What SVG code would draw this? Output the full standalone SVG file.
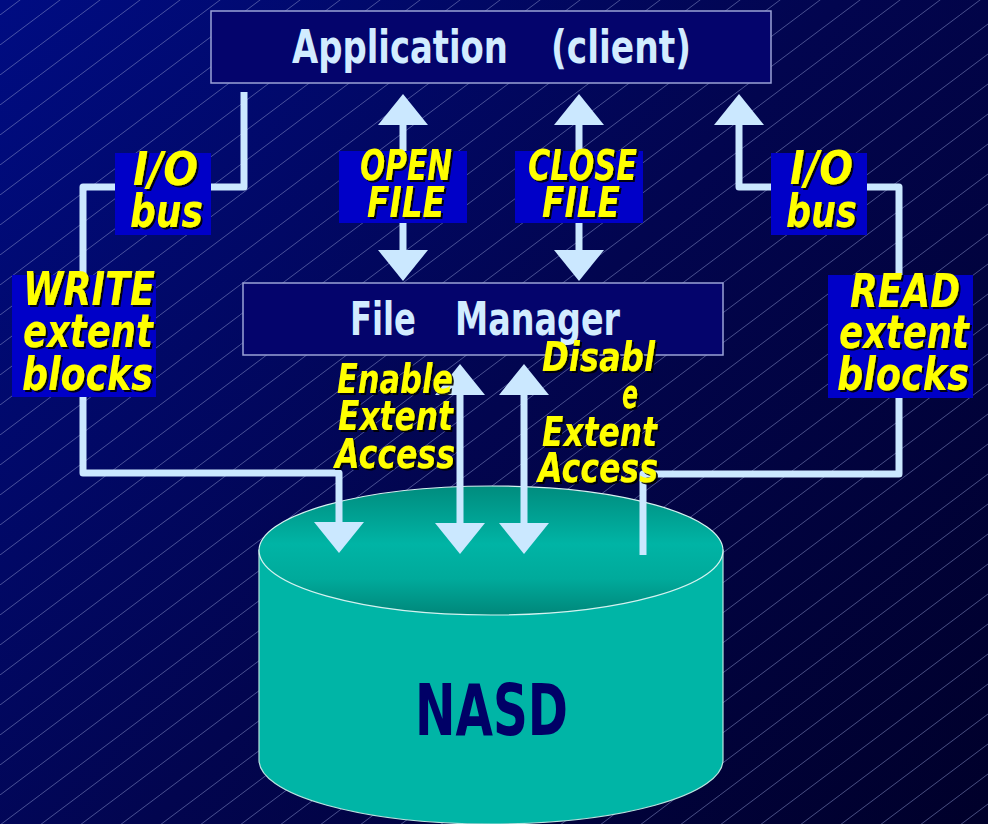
<svg xmlns="http://www.w3.org/2000/svg" width="988" height="824" viewBox="0 0 988 824">
  <defs>
    <linearGradient id="bg" gradientUnits="userSpaceOnUse" x1="0" y1="0" x2="988" y2="824">
      <stop offset="0" stop-color="#000c82"/>
      <stop offset="0.5" stop-color="#02054f"/>
      <stop offset="1" stop-color="#00002a"/>
    </linearGradient>
    <pattern id="hatch" patternUnits="userSpaceOnUse" x="0" y="15" width="40" height="30">
      <line x1="-8" y1="36" x2="48" y2="-6" stroke="#8c94cc" stroke-width="0.8" stroke-opacity="0.65"/>
    </pattern>
    <linearGradient id="capTop" x1="0" y1="0" x2="0" y2="1">
      <stop offset="0" stop-color="#008c7e"/>
      <stop offset="0.45" stop-color="#00b4a5"/>
      <stop offset="0.72" stop-color="#00aa9b"/>
      <stop offset="1" stop-color="#00877a"/>
    </linearGradient>
    <marker id="head" viewBox="0 0 31 50" refX="1" refY="25" markerWidth="31" markerHeight="50" markerUnits="userSpaceOnUse" orient="auto-start-reverse">
      <path d="M0,0 L31,25 L0,50 Z" fill="#cbe8ff"/>
    </marker>
    <filter id="shadow" x="-10%" y="-10%" width="130%" height="140%">
      <feDropShadow dx="2" dy="2" stdDeviation="0.4" flood-color="#000000" flood-opacity="0.9"/>
    </filter>
  </defs>
  <style>
    .box { fill: #04046c; stroke: #9aa2d6; stroke-width: 1.5; }
    .title { font-family: "Liberation Sans Narrow", "DejaVu Sans Condensed", "Liberation Sans", sans-serif; font-weight: bold; fill: #d2ecff; font-size: 46px; }
    .wire { fill: none; stroke: #cbe8ff; stroke-width: 7; stroke-linejoin: round; }
    .tag { fill: #0000c8; }
    .lbl { font-family: "Liberation Sans Narrow", "DejaVu Sans Condensed", "Liberation Sans", sans-serif; font-weight: bold; font-style: italic; fill: #ffff00; filter: url(#shadow); }
    .big { font-size: 46px; }
    .mid { font-size: 42px; }
    .free { font-size: 40px; }
  </style>

  <!-- background -->
  <rect x="0" y="0" width="988" height="824" fill="url(#bg)"/>
  <rect x="0" y="0" width="988" height="824" fill="url(#hatch)"/>

  <!-- disk -->
  <g id="nasd">
    <path d="M259,550 V760 A232,64 0 0 0 723,760 V550 Z" fill="#00b5a6" stroke="#b8e4e0" stroke-width="1.2"/>
    <ellipse cx="491" cy="550.5" rx="232" ry="64.5" fill="url(#capTop)" stroke="#d4f2f0" stroke-width="1.2"/>
    <text x="415" y="735" textLength="153" lengthAdjust="spacingAndGlyphs" font-family="Liberation Sans Narrow, DejaVu Sans Condensed, Liberation Sans, sans-serif" font-weight="bold" font-size="72" fill="#000066">NASD</text>
  </g>

  <!-- client box -->
  <g id="application">
    <rect class="box" x="211" y="11" width="560" height="72"/>
    <text class="title" x="292" y="63" textLength="216" lengthAdjust="spacingAndGlyphs">Application</text>
    <text class="title" x="551" y="63" textLength="140" lengthAdjust="spacingAndGlyphs">(client)</text>
  </g>

  <!-- file manager box -->
  <g id="file-manager">
    <rect class="box" x="243" y="283" width="480" height="72"/>
    <text class="title" x="350" y="335" textLength="66" lengthAdjust="spacingAndGlyphs">File</text>
    <text class="title" x="455" y="335" textLength="165" lengthAdjust="spacingAndGlyphs">Manager</text>
  </g>

  <!-- connectors -->
  <g id="connectors">
    <path class="wire" d="M244,92 V187 H83 V473 H339 V523" marker-end="url(#head)"/>
    <path class="wire" d="M643,555 V474 H899 V187 H739 V124" marker-end="url(#head)"/>
    <line class="wire" x1="403" y1="124" x2="403" y2="251" marker-start="url(#head)" marker-end="url(#head)"/>
    <line class="wire" x1="579" y1="124" x2="579" y2="251" marker-start="url(#head)" marker-end="url(#head)"/>
    <line class="wire" x1="460" y1="394" x2="460" y2="524" marker-start="url(#head)" marker-end="url(#head)"/>
    <line class="wire" x1="524" y1="394" x2="524" y2="524" marker-start="url(#head)" marker-end="url(#head)"/>
  </g>

  <!-- connector labels -->
  <g id="label-io-left">
    <rect class="tag" x="115" y="153" width="96" height="82"/>
    <text class="lbl big" x="133" y="185" textLength="65" lengthAdjust="spacingAndGlyphs">I/O</text>
    <text class="lbl big" x="130" y="227" textLength="73" lengthAdjust="spacingAndGlyphs">bus</text>
  </g>
  <g id="label-io-right">
    <rect class="tag" x="771" y="153" width="96" height="82"/>
    <text class="lbl big" x="790" y="184" textLength="63" lengthAdjust="spacingAndGlyphs">I/O</text>
    <text class="lbl big" x="786" y="227" textLength="71" lengthAdjust="spacingAndGlyphs">bus</text>
  </g>
  <g id="label-open">
    <rect class="tag" x="339" y="151" width="128" height="72"/>
    <text class="lbl mid" x="360" y="180" textLength="92" lengthAdjust="spacingAndGlyphs">OPEN</text>
    <text class="lbl mid" x="367" y="217" textLength="78" lengthAdjust="spacingAndGlyphs">FILE</text>
  </g>
  <g id="label-close">
    <rect class="tag" x="515" y="151" width="128" height="72"/>
    <text class="lbl mid" x="528" y="180" textLength="109" lengthAdjust="spacingAndGlyphs">CLOSE</text>
    <text class="lbl mid" x="542" y="217" textLength="78" lengthAdjust="spacingAndGlyphs">FILE</text>
  </g>
  <g id="label-write">
    <rect class="tag" x="12" y="275" width="144" height="122"/>
    <text class="lbl big" x="23" y="305" textLength="132" lengthAdjust="spacingAndGlyphs">WRITE</text>
    <text class="lbl big" x="23" y="347" textLength="130" lengthAdjust="spacingAndGlyphs">extent</text>
    <text class="lbl big" x="22" y="390" textLength="131" lengthAdjust="spacingAndGlyphs">blocks</text>
  </g>
  <g id="label-read">
    <rect class="tag" x="828" y="275" width="145" height="123"/>
    <text class="lbl big" x="850" y="307" textLength="110" lengthAdjust="spacingAndGlyphs">READ</text>
    <text class="lbl big" x="839" y="348" textLength="130" lengthAdjust="spacingAndGlyphs">extent</text>
    <text class="lbl big" x="837" y="390" textLength="132" lengthAdjust="spacingAndGlyphs">blocks</text>
  </g>
  <g id="label-enable">
    <text class="lbl free" x="337" y="393" textLength="116" lengthAdjust="spacingAndGlyphs">Enable</text>
    <text class="lbl free" x="338" y="430" textLength="115" lengthAdjust="spacingAndGlyphs">Extent</text>
    <text class="lbl free" x="335" y="468" textLength="120" lengthAdjust="spacingAndGlyphs">Access</text>
  </g>
  <g id="label-disable">
    <text class="lbl free" x="542" y="371" textLength="113" lengthAdjust="spacingAndGlyphs">Disabl</text>
    <text class="lbl free" x="622" y="408" textLength="16" lengthAdjust="spacingAndGlyphs">e</text>
    <text class="lbl free" x="542" y="446" textLength="115" lengthAdjust="spacingAndGlyphs">Extent</text>
    <text class="lbl free" x="538" y="482" textLength="120" lengthAdjust="spacingAndGlyphs">Access</text>
  </g>
</svg>
